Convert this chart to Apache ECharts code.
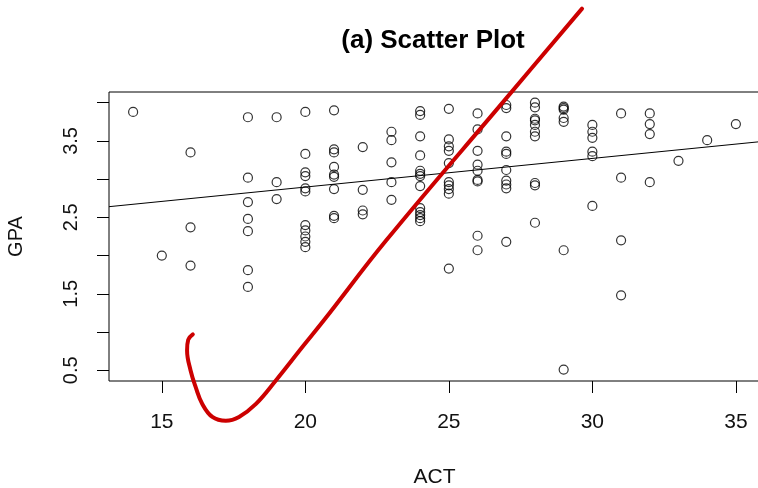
<!DOCTYPE html>
<html>
<head>
<meta charset="utf-8">
<script src="https://cdn.jsdelivr.net/npm/echarts@6/dist/echarts.min.js"></script>
<style>html,body{margin:0;padding:0;background:#fff;}#c{width:758px;height:488px;}</style>
</head>
<body>
<div id="c"></div>
<script>
// ACT / GPA observations (parallel arrays)
const act = [
  14,
  15,
  16,16,16,
  18,18,18,18,18,18,18,
  19,19,19,
  20,20,20,20,20,20,20,20,20,20,20,
  21,21,21,21,21,21,21,21,21,
  22,22,22,22,
  23,23,23,23,23,
  24,24,24,24,24,24,24,24,24,24,24,24,24,
  25,25,25,25,25,25,25,25,25,25,
  26,26,26,26,26,26,26,26,26,
  27,27,27,27,27,27,27,27,27,27,
  28,28,28,28,28,28,28,28,28,28,
  29,29,29,29,29,29,29,
  30,30,30,30,30,30,
  31,31,31,31,
  32,32,32,32,
  33,
  34,
  35
];
const gpa = [
  3.88,
  2.00,
  3.35,2.37,1.87,
  3.81,3.02,2.70,2.48,2.32,1.81,1.59,
  3.81,2.96,2.74,
  3.88,3.33,3.09,3.04,2.88,2.84,2.40,2.33,2.25,2.18,2.11,
  3.90,3.39,3.35,3.16,3.06,3.03,2.87,2.52,2.49,
  3.42,2.86,2.59,2.54,
  3.62,3.51,3.22,2.96,2.73,
  3.89,3.84,3.56,3.31,3.11,3.07,3.04,2.91,2.62,2.57,2.53,2.49,2.45,
  3.92,3.52,3.43,3.37,3.21,2.96,2.92,2.87,2.81,1.83,
  3.86,3.65,3.37,3.19,3.11,2.99,2.97,2.26,2.07,
  3.97,3.93,3.56,3.36,3.33,3.12,2.98,2.93,2.88,2.18,
  4.00,3.94,3.79,3.77,3.71,3.62,3.56,2.95,2.92,2.43,
  3.95,3.93,3.91,3.80,3.75,2.07,0.51,
  3.71,3.62,3.54,3.36,3.30,2.65,
  3.86,3.02,2.20,1.48,
  3.86,3.72,3.59,2.96,
  3.24,
  3.51,
  3.72
];
// fitted regression line end points (at axis limits)
const fitX = [13.16, 35.84];
const fitY = [2.64, 3.49];
// red hand-drawn stroke, in data units
const strokeX = [16.08,15.92,15.88,16.00,16.18,16.41,16.76,17.23,17.69,18.28,18.98,19.91,20.66,22.82,26.96,29.64];
const strokeY = [0.97,0.90,0.76,0.50,0.28,0.06,-0.11,-0.16,-0.11,0.06,0.37,0.81,1.16,2.20,4.04,5.23];
// axis ticks and labels
const xTicks = [15,20,25,30,35];
const yTicks = [0.5,1.0,1.5,2.0,2.5,3.0,3.5,4.0];
const yLabels = [0.5,1.5,2.5,3.5];

const FONT = "'Liberation Sans', Arial, sans-serif";
const chart = echarts.init(document.getElementById('c'), null, {renderer:'canvas'});
chart.setOption({
  animation:false,
  backgroundColor:'#fff',
  title:{
    text:'(a) Scatter Plot',
    left:433, top:28, padding:0, textAlign:'center',
    textStyle:{fontFamily:FONT, fontWeight:'bold', fontSize:26, color:'#000'}
  },
  grid:{left:109, top:92, width:651, height:289, show:true, borderColor:'#000', borderWidth:1,
    backgroundColor:'transparent', containLabel:false, outerBoundsMode:'none'},
  xAxis:{
    type:'value', min:13.16, max:35.84,
    name:'ACT', nameLocation:'middle', nameGap:86,
    nameTextStyle:{fontFamily:FONT, fontSize:21, color:'#111'},
    axisLine:{show:false},
    splitLine:{show:false},
    axisTick:{show:true, inside:false, length:12, customValues:xTicks, lineStyle:{color:'#000', width:1}},
    axisLabel:{customValues:xTicks, margin:31, fontFamily:FONT, fontSize:21, color:'#111'}
  },
  yAxis:{
    type:'value', min:0.36, max:4.14,
    name:'GPA', nameLocation:'middle', nameGap:83, nameRotate:90,
    nameTextStyle:{fontFamily:FONT, fontSize:20, color:'#111'},
    axisLine:{show:false},
    splitLine:{show:false},
    axisTick:{show:true, inside:false, length:12, customValues:yTicks, lineStyle:{color:'#000', width:1}},
    axisLabel:{customValues:yLabels, rotate:90, margin:28, fontFamily:FONT, fontSize:20, color:'#111',
      formatter:function(v){return v.toFixed(1);}}
  },
  series:[
    {
      type:'scatter',
      data:act.map(function(a,i){return [a,gpa[i]];}),
      symbol:'circle', symbolSize:9,
      itemStyle:{color:'rgba(0,0,0,0)', borderColor:'#000', borderWidth:1.2},
      z:2
    },
    {
      type:'line',
      data:fitX.map(function(x,i){return [x,fitY[i]];}),
      showSymbol:false, symbol:'none',
      lineStyle:{color:'#000', width:1},
      clip:true, z:3
    },
    {
      type:'line',
      data:strokeX.map(function(x,i){return [x,strokeY[i]];}),
      showSymbol:false, symbol:'none', smooth:0.4,
      lineStyle:{color:'#cc0000', width:4, cap:'round', join:'round'},
      clip:false, z:5
    }
  ]
});
</script>
</body>
</html>
